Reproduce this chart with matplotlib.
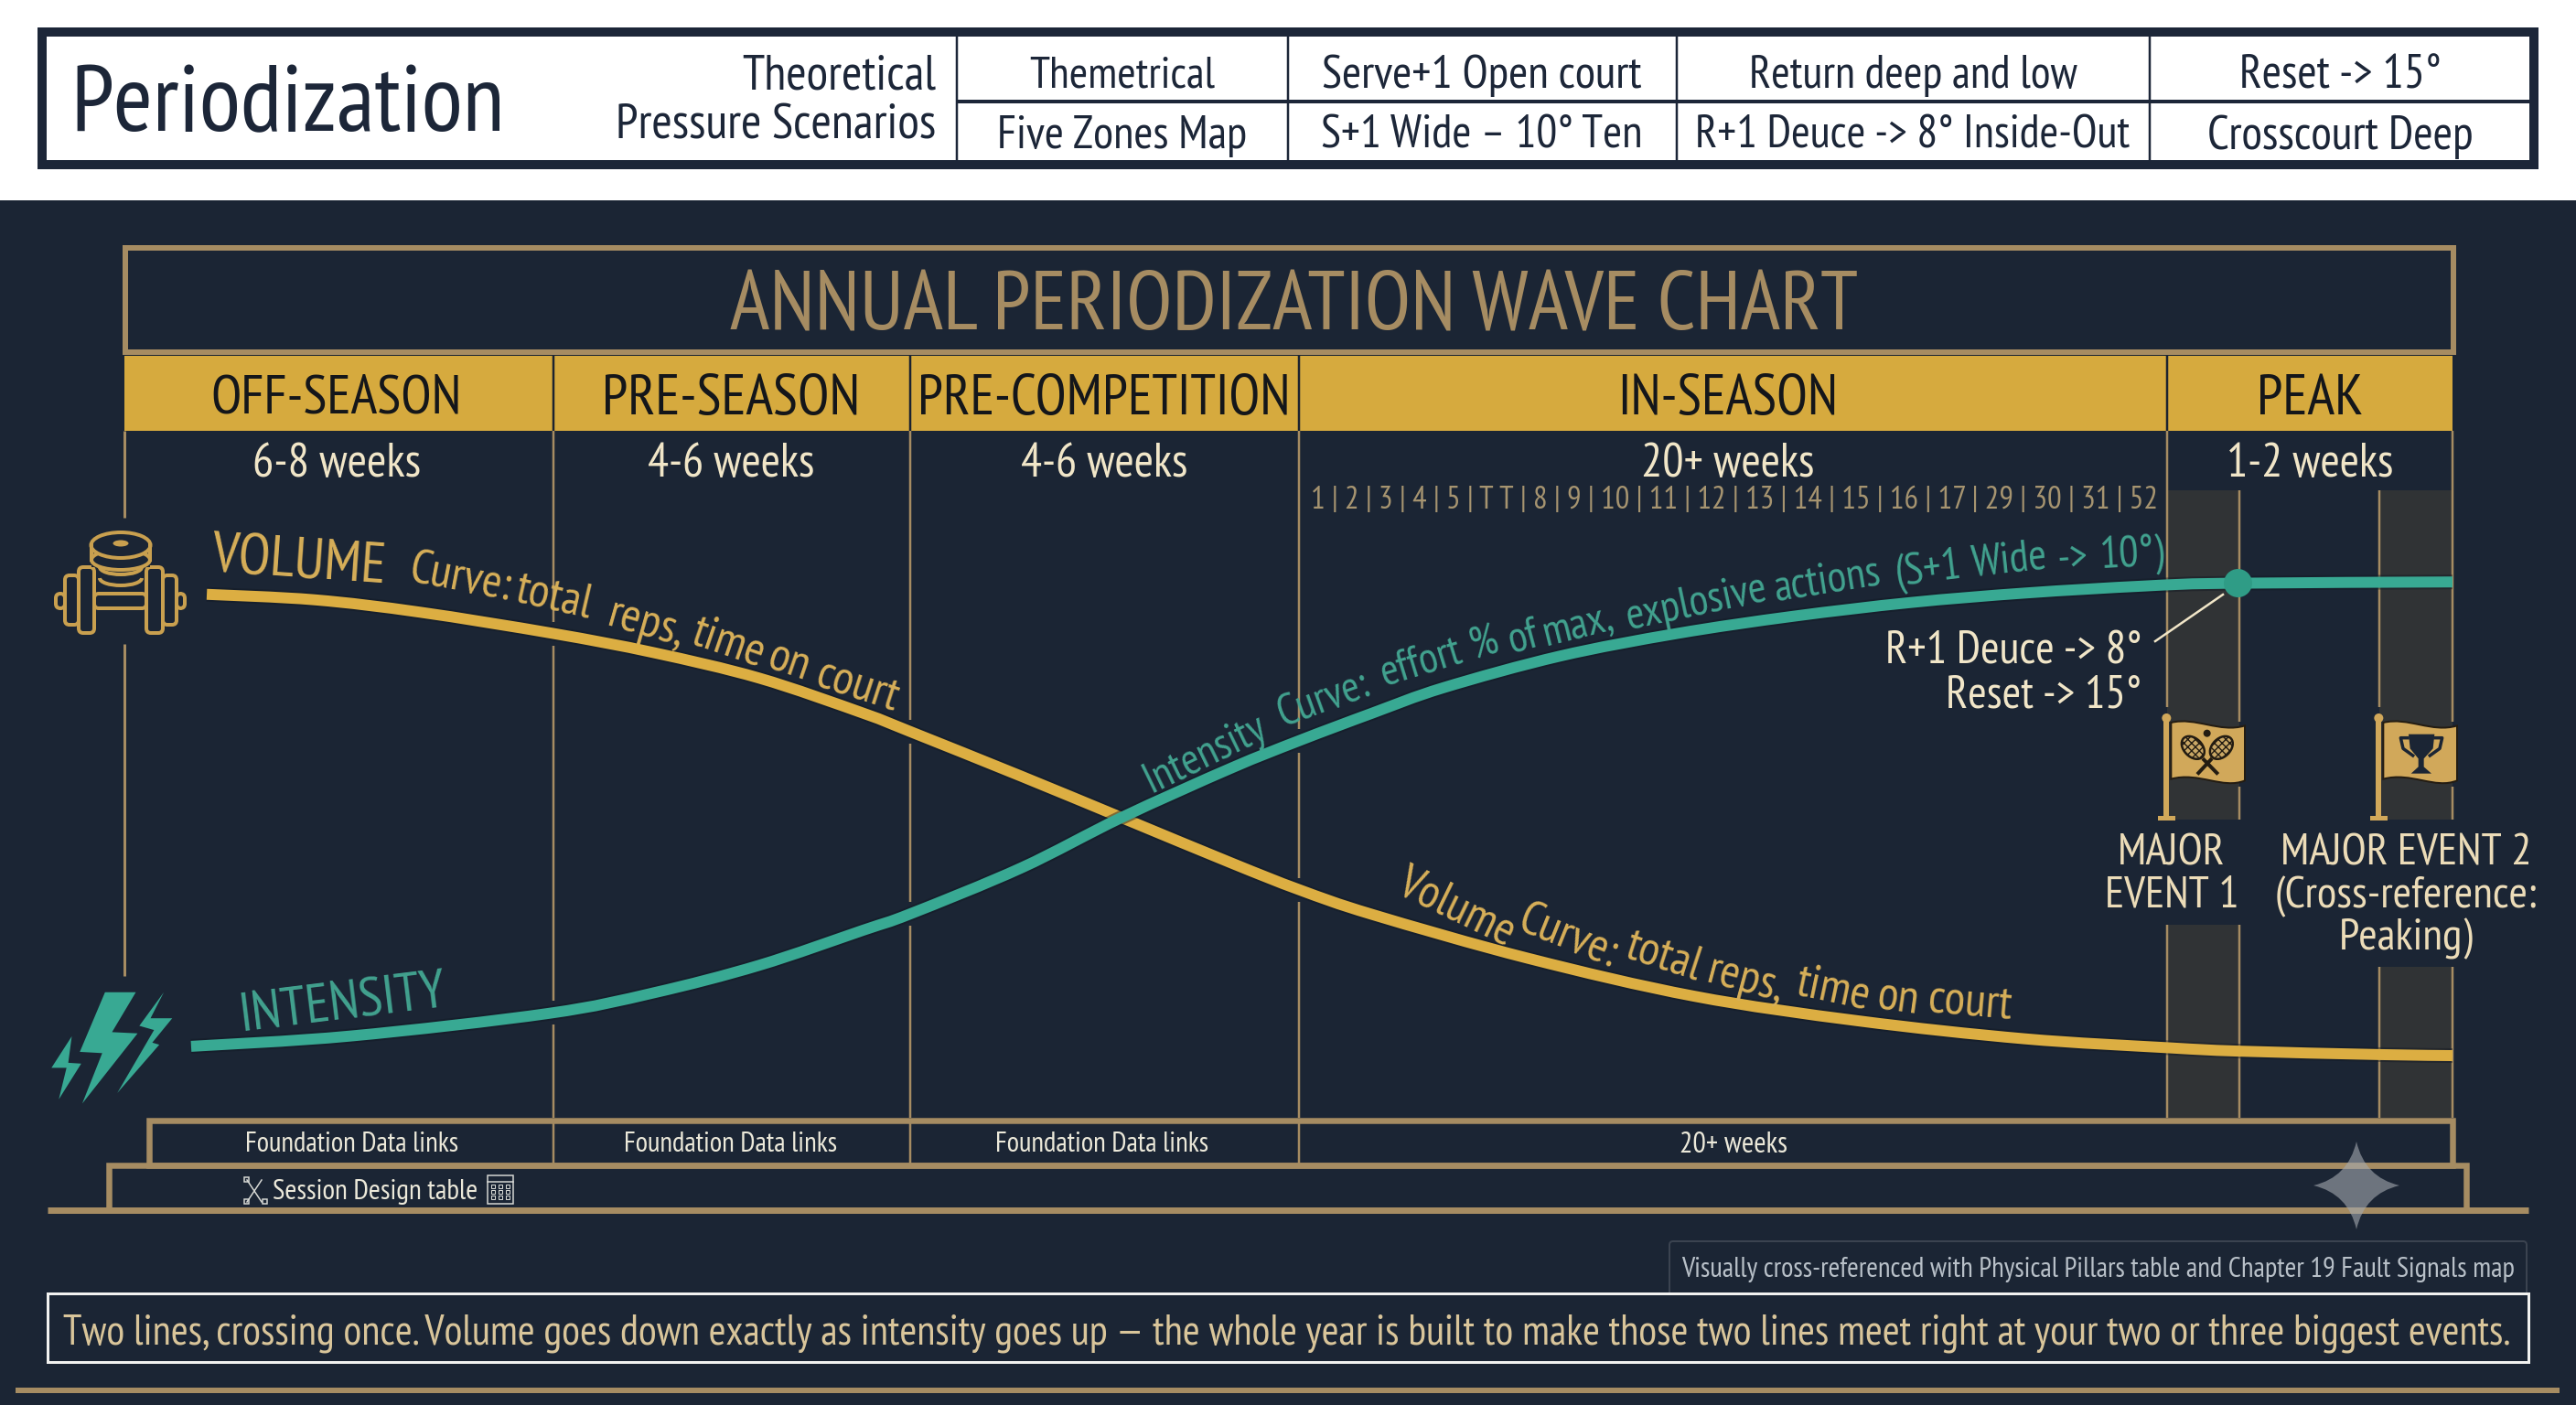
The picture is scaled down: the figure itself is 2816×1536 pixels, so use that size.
import numpy as np
import matplotlib
matplotlib.use('Agg')
import matplotlib.pyplot as plt
import matplotlib.patheffects as pe
from matplotlib.font_manager import FontProperties
from matplotlib.patches import Rectangle, Polygon, Ellipse, FancyBboxPatch, PathPatch, Circle, Arc
from matplotlib.path import Path
from matplotlib.textpath import TextPath

W, H = 2816, 1536
NAVY = '#1b2534'
INK = '#1c2638'
TAN = '#a68c62'
GOLD = '#dcae42'
GOLDBAR = '#d6aa3e'
GOLDTXT = '#d8b059'
TEAL = '#38a993'
TEALTXT = '#42a28f'
CREAM = '#f1e6c8'
BAND = '#303335'

# chart data: week of the year and level 0-100
vol_weeks = [1.84, 4.25, 6.6, 9.58, 11.83, 14.18, 16.5, 17.56, 20.04, 22.27, 24.72, 26.24,
             27.87, 31.36, 35.06, 38.74, 42.44, 45.63, 47.24, 50.37, 52.0]
vol_level = [76.2, 75.4, 73.6, 70.5, 67.7, 64.0, 58.9, 56.2, 49.7, 43.7, 37.1, 33.2,
             29.6, 23.2, 17.7, 14.1, 11.5, 10.2, 9.7, 9.2, 9.05]
int_weeks = [1.49, 5.05, 9.48, 11.83, 14.18, 16.5, 17.56, 20.04, 22.27, 24.72, 26.24, 27.87,
             29.46, 32.06, 34.68, 37.27, 39.89, 42.48, 45.09, 46.9, 52.0]
int_level = [10.4, 11.9, 15.2, 18.2, 22.2, 27.3, 29.7, 36.4, 43.7, 50.9, 54.9, 58.9,
             62.6, 67.2, 70.5, 73.0, 75.0, 76.4, 77.4, 77.8, 78.0]
peak_week = [47.2]
peak_level = [77.9]

phases = ['OFF-SEASON', 'PRE-SEASON', 'PRE-COMPETITION', 'IN-SEASON', 'PEAK']
phase_weeks = ['6-8 weeks', '4-6 weeks', '4-6 weeks', '20+ weeks', '1-2 weeks']
phase_edges = [136, 605, 995, 1420, 2369, 2681]
phase_cx = [368, 799, 1207, 1889, 2525]
phase_w = [268, 274, 400, 232, 111]
weeks_w = [180, 180, 180, 185, 178]
table_cx = [1227, 1620, 2091, 2558]
table_top = ['Themetrical', 'Serve+1 Open court', 'Return deep and low', 'Reset -> 15°']
table_bot = ['Five Zones Map', 'S+1 Wide – 10° Ten', 'R+1 Deuce -> 8° Inside-Out', 'Crosscourt Deep']
table_top_w = [202, 348, 354, 215]
table_bot_w = [268, 347, 472, 287]
week_ticks = '1 | 2 | 3 | 4 | 5 | T T | 8 | 9 | 10 | 11 | 12 | 13 | 14 | 15 | 16 | 17 | 29 | 30 | 31 | 52'

FONT = ['PT Sans Narrow', 'Archivo Narrow', 'Liberation Sans']


def pt(px):
    return px * 0.72


def fit(s, width):
    # font size in px that makes the string as wide as in the picture
    w = TextPath((0, 0), s, size=100, prop=FontProperties(family=FONT)).get_extents().width
    return 100 * width / w


fig = plt.figure(figsize=(W / 100, H / 100), dpi=100, facecolor='white')


def overlay(z):
    a = fig.add_axes([0, 0, 1, 1], zorder=z)
    a.set_xlim(0, W)
    a.set_ylim(H, 0)
    a.axis('off')
    a.patch.set_alpha(0)
    return a


page = overlay(1)
top = overlay(3)

# chart axes, weeks across the phase strip, level from strip bottom to floor
chart = fig.add_axes([136 / W, 1 - 1222 / H, (2681 - 136) / W, (1222 - 471) / H], zorder=2)
chart.set_xlim(0, 52)
chart.set_ylim(0, 100)
chart.axis('off')
chart.patch.set_alpha(0)


def txt(a, x, y, s, size, color, ha='center', rot=0, va='center_baseline'):
    return a.text(x, y, s, fontsize=pt(size), color=color, ha=ha, va=va, rotation=rot,
                  rotation_mode='anchor', family=FONT)


def box(a, x0, y0, x1, y1, **kw):
    a.add_patch(Rectangle((x0, y0), x1 - x0, y1 - y0, **kw))


def smooth(ax, xs, ys, color, lw):
    # bezier through the read points so the line has no corners
    p = np.column_stack([xs, ys])
    verts = [p[0]]
    for i in range(len(p) - 1):
        a = p[max(i - 1, 0)]
        b = p[i]
        c = p[i + 1]
        d = p[min(i + 2, len(p) - 1)]
        verts += [b + (c - a) / 6, c - (d - b) / 6, c]
    codes = [Path.MOVETO] + [Path.CURVE4] * (len(verts) - 1)
    halo = [pe.Stroke(linewidth=pt(lw + 4), foreground='#111823', alpha=0.45), pe.Normal()]
    ax.add_patch(PathPatch(Path(verts, codes), fill=False, ec=color, lw=pt(lw), capstyle='butt',
                           path_effects=halo))


# header strip
box(page, 46, 35, 2770, 180, fc='white', ec=INK, lw=pt(10))
txt(page, 77, 143, 'Periodization', fit('Periodization', 463), INK, ha='left', va='baseline')
head_size = fit('Pressure Scenarios', 345)
txt(page, 1023, 79, 'Theoretical', head_size, INK, ha='right')
txt(page, 1023, 132, 'Pressure Scenarios', head_size, INK, ha='right')
page.plot([1046, 2766], [111, 111], color=INK, lw=pt(4), solid_capstyle='butt')
for xv in [1046, 1408, 1833, 2350]:
    page.plot([xv, xv], [40, 176], color=INK, lw=pt(2.5), solid_capstyle='butt')
for cx, t1, t2, w1, w2 in zip(table_cx, table_top, table_bot, table_top_w, table_bot_w):
    txt(page, cx, 78, t1, fit(t1, w1), INK)
    txt(page, cx, 144, t2, fit(t2, w2), INK)

# dark panel
box(page, 0, 219, W, H, fc=NAVY, ec='none')
box(page, 137, 271, 2682, 385, fc='none', ec=TAN, lw=pt(6))
s = 'ANNUAL PERIODIZATION WAVE CHART'
txt(top, 1415, 328, s, fit(s, 1232), TAN)

box(page, 136, 389, 2681, 471, fc=GOLDBAR, ec='none')
for xv in phase_edges[1:-1]:
    page.plot([xv, xv], [389, 471], color='#1c2330', lw=pt(2.5), solid_capstyle='butt')
for cx, ph, wk, w1, w2 in zip(phase_cx, phases, phase_weeks, phase_w, weeks_w):
    txt(top, cx, 431, ph, fit(ph, w1), '#14161a')
    txt(top, cx, 503, wk, fit(wk, w2), CREAM)
txt(top, 1896, 544, week_ticks, fit(week_ticks, 921), '#a69470')

# event bands
for x0, x1, gap_end in [(2369, 2448, 1011), (2601, 2681, 1057)]:
    box(page, x0, 536, x1, 896, fc=BAND, ec='none')
    box(page, x0, gap_end, x1, 1222, fc=BAND, ec='none')

# vertical phase lines, broken where a curve passes
vol_py = 1222 - np.array(vol_level) * 7.51
int_py = 1222 - np.array(int_level) * 7.51
vol_px = 136 + np.array(vol_weeks) * 48.94
int_px = 136 + np.array(int_weeks) * 48.94


def vline(xv, y0, y1, w=2.5):
    page.plot([xv, xv], [y0, y1], color=TAN, lw=pt(w), solid_capstyle='butt')


def broken_line(xv, y0, y1, gap=13):
    cuts = sorted([np.interp(xv, vol_px, vol_py), np.interp(xv, int_px, int_py)])
    ys = [y0]
    for c in cuts:
        if y0 < c < y1:
            ys += [c - gap, c + gap]
    ys.append(y1)
    for a, b in zip(ys[::2], ys[1::2]):
        vline(xv, a, b)


vline(136, 471, 566, 3)
vline(136, 704, 1067, 3)
for xv in phase_edges[1:4]:
    broken_line(xv, 471, 1222)
for xv, y0, y1 in [(2369, 471, 773), (2369, 1011, 1222), (2448, 536, 789), (2448, 860, 896),
                   (2448, 1011, 1222), (2601, 536, 773), (2601, 1057, 1222), (2681, 471, 789),
                   (2681, 860, 896), (2681, 1057, 1222)]:
    vline(xv, y0, y1)

# curves
smooth(chart, vol_weeks, vol_level, GOLD, 12)
smooth(chart, int_weeks, int_level, TEAL, 12)
chart.plot(peak_week, peak_level, 'o', color='#2f9c86', ms=pt(31), mec='none')
page.plot([2356, 2430], [701, 650], color=CREAM, lw=pt(2.5))

# curve labels, word by word because they bend with the line
txt(top, 327, 609, 'VOLUME', fit('VOLUME', 188), GOLDTXT, rot=-4)
txt(top, 373, 1092, 'INTENSITY', fit('INTENSITY', 222), TEALTXT, rot=7)
words_v1 = [('Curve:', 505, 628, -11), ('total', 607, 648, -13), ('reps,', 708, 677, -16),
            ('time', 798, 698, -19), ('on', 864, 719, -19), ('court', 939, 745, -18)]
words_v2 = [('Volume', 1594, 988, -26), ('Curve:', 1716, 1020, -22), ('total', 1820, 1041, -18),
            ('reps,', 1910, 1067, -15), ('time', 2005, 1077, -12), ('on', 2075, 1087, -8),
            ('court', 2154, 1091, -5)]
words_i = [('Intensity', 1315, 820, 26), ('Curve:', 1445, 760, 20), ('effort', 1552, 720, 17),
           ('%', 1621, 700, 16), ('of', 1664, 693, 15), ('max,', 1724, 680, 14),
           ('explosive', 1853, 655, 12), ('actions', 1997, 631, 9), ('(S+1', 2107, 618, 7),
           ('Wide', 2196, 608, 6), ('->', 2266, 606, 4), ('10°)', 2330, 601, 3)]
gold_size = fit('court', 90)
teal_size = fit('explosive', 153)
for s, x, y, r in words_v1 + words_v2:
    txt(top, x, y, s, gold_size, GOLDTXT, rot=r)
for s, x, y, r in words_i:
    txt(top, x, y, s, teal_size, TEALTXT, rot=r)

ann_size = fit('R+1 Deuce -> 8°', 274)
txt(top, 2341, 707, 'R+1 Deuce -> 8°', ann_size, CREAM, ha='right')
txt(top, 2341, 756, 'Reset -> 15°', ann_size, CREAM, ha='right')
EV = '#ecdcb8'
ev_size = fit('MAJOR EVENT 2', 268)
txt(top, 2374, 929, 'MAJOR', ev_size, EV)
txt(top, 2374, 975, 'EVENT 1', ev_size, EV)
txt(top, 2630, 929, 'MAJOR EVENT 2', ev_size, EV)
txt(top, 2630, 975, '(Cross-reference:', ev_size, EV)
txt(top, 2630, 1021, 'Peaking)', ev_size, EV)

# dumbbell icon
ICON = '#c9a04f'


def rrect(x0, y0, x1, y1, fill=NAVY):
    top.add_patch(FancyBboxPatch((x0, y0), x1 - x0, y1 - y0,
                                 boxstyle='round,pad=0,rounding_size=5', fc=fill, ec=ICON, lw=pt(4)))


rrect(61, 649, 71, 665)
rrect(193, 649, 202, 665)
rrect(103, 649, 160, 665)
rrect(71, 629, 86, 683)
rrect(178, 629, 193, 683)
rrect(86, 620, 103, 692)
rrect(160, 620, 178, 692)
top.add_patch(Rectangle((100, 596), 64, 24, fc=NAVY, ec='none'))
top.plot([100, 100], [596, 612], color=ICON, lw=pt(4))
top.plot([164, 164], [596, 612], color=ICON, lw=pt(4))
top.add_patch(Ellipse((132, 612), 64, 22, fc=NAVY, ec=ICON, lw=pt(4)))
top.add_patch(Ellipse((132, 596), 65, 28, fc=NAVY, ec=ICON, lw=pt(4)))
top.add_patch(Ellipse((132, 594), 17, 7, fc=ICON, ec='none'))
for yc in (628, 640):
    top.add_patch(Arc((132, yc - 8), 46, 16, theta1=0, theta2=180, ec=ICON, lw=pt(4)))


# lightning bolts, zoom coordinates of the left column
def z6(pts):
    return [(x / 2.613, y / 2.178 + 520) for x, y in pts]


bolts = [
    [(300, 1230), (388, 1230), (320, 1325), (393, 1328), (235, 1495), (292, 1375), (228, 1372)],
    [(468, 1230), (398, 1310), (440, 1320), (335, 1470), (455, 1355), (435, 1350), (492, 1292), (430, 1292)],
    [(205, 1335), (147, 1410), (190, 1410), (168, 1485), (232, 1400), (195, 1398)],
]
for b in bolts:
    top.add_patch(Polygon(z6(b), fc=TEAL, ec='none'))

# flags, drawn in zoom coordinates of the event area
FLAG = '#d1a85a'


def flag(off):
    def z(x, y):
        return (2340 + off + x / 3, 760 + y / 3)
    top.add_patch(Rectangle(z(76, 80), 17 / 3, 320 / 3, fc=FLAG, ec='none'))
    top.add_patch(Circle(z(85, 75), 5, fc=FLAG, ec='none'))
    top.add_patch(Rectangle(z(57, 395), 56 / 3, 16 / 3, fc=FLAG, ec='none'))
    verts = [z(100, 90), z(180, 70), z(260, 125), z(342, 100), z(342, 280),
             z(270, 310), z(190, 250), z(100, 275), z(100, 90)]
    codes = [Path.MOVETO, Path.CURVE4, Path.CURVE4, Path.CURVE4, Path.LINETO,
             Path.CURVE4, Path.CURVE4, Path.CURVE4, Path.CLOSEPOLY]
    top.add_patch(PathPatch(Path(verts, codes), fc=FLAG, ec='#231c12', lw=pt(2)))
    return z


z = flag(0)
for cx, ang in [(172, 45), (265, -45)]:
    top.add_patch(Ellipse(z(cx, 172), 29, 20, angle=ang, fc='#c9a765', ec='#231c12', lw=pt(2.5),
                          hatch='xxxx'))
top.plot(*zip(z(208, 212), z(250, 255)), color='#231c12', lw=pt(4))
top.plot(*zip(z(230, 212), z(190, 255)), color='#231c12', lw=pt(4))
top.add_patch(Circle(z(218, 125), 4, fc='#231c12', ec='none'))

z = flag(232)
cup = [z(183, 128), z(268, 128), z(263, 175), z(233, 208), z(233, 235), z(258, 257), z(191, 257),
       z(215, 235), z(215, 208), z(188, 175)]
top.add_patch(Polygon(cup, fc=NAVY, ec='none'))
for sx in (-1, 1):
    hx = 225
    top.plot(*zip(z(hx + sx * 45, 140), z(hx + sx * 68, 140), z(hx + sx * 60, 175), z(hx + sx * 28, 198)),
             color=NAVY, lw=pt(3.5))

# stepped base
box(page, 163, 1225, 2681, 1274, fc='none', ec=TAN, lw=pt(6.5))
box(page, 119, 1274, 2696, 1323, fc='none', ec=TAN, lw=pt(6.5))
page.plot([52, 2764], [1323, 1323], color=TAN, lw=pt(7), solid_capstyle='butt')
for xv in phase_edges[1:4]:
    vline(xv, 1225, 1274)
for cx, s, w in zip([385, 799, 1205, 1895], ['Foundation Data links'] * 3 + ['20+ weeks'], [229, 229, 229, 115]):
    txt(top, cx, 1248, s, fit(s, w), '#ece9da')
txt(top, 298, 1300, 'Session Design table', fit('Session Design table', 222), '#ece9da', ha='left')

# small icons around the session label
LINEC = '#d8dad6'
top.plot([270, 286], [1290, 1314], color=LINEC, lw=pt(1.5))
top.plot([286, 270], [1290, 1314], color=LINEC, lw=pt(1.5))
for px_, py_ in [(267, 1287), (287, 1311), (267, 1311)]:
    top.add_patch(Rectangle((px_, py_), 5, 5, fc='none', ec=LINEC, lw=pt(1.5)))
top.add_patch(Rectangle((533, 1285), 28, 31, fc='none', ec=LINEC, lw=pt(1.5)))
top.plot([533, 561], [1292, 1292], color=LINEC, lw=pt(1.5))
for cx_ in (539, 547, 555):
    for cy_ in (1297, 1303, 1309):
        top.add_patch(Rectangle((cx_ - 2, cy_ - 2), 4, 4, fc='none', ec=LINEC, lw=pt(1)))

# sparkle
c = (2576, 1296)
sv = [(c[0], c[1] - 48), (c[0] + 9, c[1] - 9), (c[0] + 47, c[1]), (c[0] + 9, c[1] + 9),
      (c[0], c[1] + 48), (c[0] - 9, c[1] + 9), (c[0] - 47, c[1]), (c[0] - 9, c[1] - 9),
      (c[0], c[1] - 48)]
sc = [Path.MOVETO] + [Path.CURVE3] * 8
top.add_patch(PathPatch(Path(sv, sc), fc='#a4a9b0', ec='none', alpha=0.6))

# notes at the bottom
page.add_patch(FancyBboxPatch((1825, 1357), 937, 70, boxstyle='round,pad=0,rounding_size=4',
                              fc='none', ec='#3b4350', lw=pt(2)))
box(page, 52, 1414, 2764, 1489, fc=NAVY, ec='#f2f2f0', lw=pt(3))
s = 'Visually cross-referenced with Physical Pillars table and Chapter 19 Fault Signals map'
txt(top, 2294, 1385, s, fit(s, 907), '#b8c0c8')
s = ('Two lines, crossing once. Volume goes down exactly as intensity goes up — the whole year '
     'is built to make those two lines meet right at your two or three biggest events.')
txt(top, 1407, 1453, s, fit(s, 2674), '#d9c59a')
page.plot([17, 2798], [1520, 1520], color=TAN, lw=pt(6), solid_capstyle='butt')

fig.savefig('out.png', dpi=100, facecolor='white')
